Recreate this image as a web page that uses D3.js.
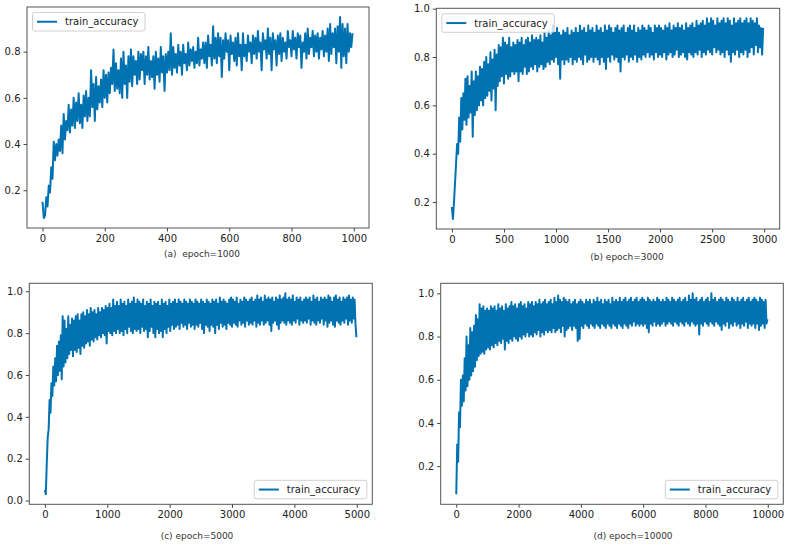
<!DOCTYPE html>
<html>
<head>
<meta charset="utf-8">
<script src="https://cdnjs.cloudflare.com/ajax/libs/d3/7.8.5/d3.min.js"></script>
<style>
body { margin: 0; background: #fff; }
text { font-family: "DejaVu Sans", sans-serif; }
</style>
</head>
<body>
<script>
// train_accuracy, one value every `step` epochs
var accA = [ // epoch=1000, step 4
.15,.08,.09,.17,.13,.22,.19,.30,.25,.41,.33,.40,.35,.42,.37,.48,.36,.53,.42,.50,
.46,.57,.45,.55,.48,.60,.47,.58,.50,.62,.49,.57,.47,.61,.52,.63,.50,.60,.52,.72,
.56,.66,.50,.69,.55,.65,.58,.68,.56,.72,.60,.70,.58,.71,.62,.73,.66,.81,.63,.75,
.64,.72,.62,.77,.60,.80,.66,.74,.60,.78,.67,.81,.65,.78,.70,.76,.66,.80,.68,.79,
.72,.80,.66,.78,.70,.82,.68,.76,.69,.78,.64,.80,.70,.77,.67,.82,.71,.78,.63,.79,
.71,.80,.72,.88,.70,.82,.73,.79,.71,.83,.74,.80,.70,.83,.75,.79,.72,.84,.74,.81,
.76,.82,.73,.80,.75,.86,.74,.81,.77,.84,.75,.84,.73,.87,.78,.83,.74,.91,.77,.86,
.75,.88,.78,.86,.69,.85,.77,.88,.80,.85,.72,.87,.79,.84,.76,.86,.74,.88,.78,.83,
.72,.88,.78,.83,.76,.87,.80,.84,.75,.87,.79,.86,.77,.89,.80,.84,.72,.88,.81,.85,
.77,.90,.79,.86,.72,.88,.81,.85,.74,.87,.79,.88,.76,.86,.80,.84,.77,.89,.82,.85,
.78,.89,.81,.86,.77,.88,.82,.87,.73,.84,.80,.88,.77,.90,.79,.86,.82,.89,.78,.87,
.80,.88,.77,.86,.81,.89,.78,.87,.80,.90,.76,.92,.79,.88,.82,.90,.75,.91,.80,.95,
.73,.92,.78,.90,.75,.92,.80,.88,.82,.88
];
var accB = [ // epoch=3000, step 10
.18,.13,.20,.28,.36,.44,.40,.55,.45,.63,.50,.65,.54,.71,.52,.72,.55,.68,.57,.74,
.47,.70,.56,.74,.58,.72,.60,.76,.62,.75,.60,.78,.63,.80,.64,.77,.66,.82,.62,.79,
.67,.83,.58,.81,.68,.85,.70,.84,.72,.88,.69,.86,.73,.85,.71,.88,.72,.84,.74,.86,
.73,.85,.74,.87,.70,.86,.74,.88,.73,.85,.76,.87,.73,.88,.74,.86,.76,.89,.75,.87,
.77,.88,.74,.87,.76,.89,.77,.86,.75,.90,.76,.88,.78,.91,.77,.89,.79,.93,.78,.90,
.80,.92,.77,.90,.71,.89,.79,.91,.77,.90,.79,.92,.78,.89,.80,.91,.77,.90,.79,.92,
.78,.90,.80,.93,.79,.91,.77,.92,.81,.90,.78,.93,.79,.91,.80,.92,.78,.90,.80,.93,
.79,.91,.77,.92,.80,.90,.78,.93,.75,.91,.80,.93,.78,.92,.81,.90,.79,.92,.80,.93,
.78,.91,.74,.92,.80,.93,.79,.90,.81,.92,.78,.93,.80,.91,.79,.93,.81,.90,.78,.92,
.80,.91,.79,.93,.81,.92,.80,.91,.82,.93,.80,.92,.81,.90,.79,.93,.82,.92,.80,.93,
.81,.92,.80,.91,.82,.93,.79,.92,.81,.94,.82,.91,.80,.93,.81,.92,.83,.94,.80,.92,
.81,.93,.82,.91,.80,.94,.79,.92,.82,.93,.81,.94,.80,.92,.82,.95,.81,.93,.83,.94,
.80,.95,.82,.93,.81,.96,.83,.94,.82,.96,.81,.95,.84,.93,.82,.96,.83,.94,.81,.95,
.82,.96,.80,.94,.83,.96,.81,.95,.78,.93,.82,.96,.81,.94,.83,.95,.80,.96,.82,.94,
.81,.95,.83,.96,.80,.94,.82,.96,.84,.95,.81,.94,.85,.96,.82,.93,.84,.92,.81,.92
];
var accC = [ // epoch=5000, step 15
.05,.03,.18,.30,.34,.48,.42,.56,.50,.64,.55,.68,.57,.74,.60,.76,.62,.79,.58,.88,
.64,.86,.66,.82,.68,.88,.70,.84,.72,.87,.69,.86,.72,.88,.71,.89,.73,.86,.70,.89,
.74,.90,.73,.88,.75,.91,.76,.89,.74,.92,.77,.90,.76,.91,.78,.89,.77,.92,.79,.90,
.78,.92,.80,.91,.79,.93,.75,.92,.81,.94,.80,.92,.79,.96,.81,.93,.80,.95,.82,.93,
.80,.96,.81,.94,.79,.95,.82,.93,.80,.96,.83,.94,.81,.95,.80,.97,.82,.94,.81,.96,
.82,.95,.80,.94,.83,.96,.81,.93,.82,.95,.78,.94,.81,.96,.83,.93,.80,.95,.78,.94,
.82,.95,.80,.93,.81,.96,.78,.94,.82,.95,.80,.93,.83,.96,.81,.94,.84,.95,.82,.96,
.83,.94,.84,.96,.82,.95,.85,.94,.83,.96,.84,.95,.82,.94,.85,.96,.83,.95,.84,.94,
.82,.96,.84,.95,.83,.94,.85,.96,.82,.95,.80,.94,.84,.96,.83,.95,.81,.94,.84,.96,
.83,.95,.80,.96,.84,.94,.82,.97,.85,.95,.83,.96,.84,.95,.82,.94,.85,.96,.84,.97,
.83,.96,.85,.95,.84,.97,.83,.94,.86,.96,.84,.95,.85,.97,.83,.96,.86,.95,.84,.96,
.85,.97,.84,.95,.86,.96,.83,.98,.85,.96,.84,.97,.86,.95,.84,.98,.85,.96,.86,.97,
.84,.96,.81,.97,.85,.95,.86,.97,.84,.96,.82,.98,.85,.96,.86,.97,.85,.99,.84,.96,
.86,.97,.85,.96,.84,.98,.86,.95,.85,.97,.87,.96,.84,.97,.86,.95,.85,.96,.86,.97,
.85,.96,.87,.97,.84,.95,.86,.98,.85,.96,.84,.97,.86,.95,.85,.97,.87,.96,.84,.97,
.86,.96,.83,.98,.85,.97,.86,.95,.84,.97,.83,.98,.86,.96,.85,.97,.84,.95,.86,.97,
.85,.96,.87,.97,.84,.98,.86,.96,.85,.97,.87,.96,.84,.78
];
var accD = [ // epoch=10000, step 30
.07,.30,.22,.45,.38,.60,.48,.62,.50,.70,.55,.80,.57,.76,.60,.84,.62,.82,.64,.85,
.66,.90,.69,.88,.71,.95,.72,.93,.73,.94,.72,.92,.74,.93,.75,.92,.74,.94,.76,.93,
.75,.94,.77,.92,.76,.95,.78,.93,.77,.94,.79,.92,.74,.95,.78,.93,.77,.94,.79,.96,
.78,.94,.80,.95,.79,.93,.78,.95,.80,.96,.79,.94,.81,.95,.80,.93,.82,.96,.80,.95,
.81,.96,.80,.94,.82,.96,.81,.95,.83,.97,.80,.95,.82,.96,.81,.97,.83,.95,.82,.96,
.83,.97,.82,.95,.84,.98,.82,.96,.83,.99,.84,.97,.82,.96,.85,.98,.80,.97,.83,.96,
.84,.97,.85,.95,.83,.96,.85,.97,.84,.95,.78,.96,.79,.97,.85,.96,.84,.95,.86,.97,
.85,.96,.84,.97,.86,.95,.85,.97,.84,.96,.86,.98,.85,.96,.84,.97,.86,.95,.85,.97,
.84,.96,.86,.97,.85,.95,.84,.98,.86,.96,.85,.97,.84,.96,.86,.98,.85,.96,.84,.97,
.86,.98,.85,.96,.84,.97,.86,.98,.85,.96,.87,.97,.85,.98,.86,.96,.85,.97,.86,.98,
.85,.97,.86,.96,.84,.98,.82,.97,.86,.96,.85,.97,.87,.96,.85,.98,.86,.97,.85,.96,
.86,.97,.87,.96,.85,.98,.86,.97,.87,.96,.86,.98,.85,.97,.87,.96,.86,.97,.85,.98,
.87,.96,.86,.97,.85,.98,.87,.96,.86,.99,.85,.97,.87,1.0,.86,.97,.85,.98,.86,.96,
.81,.97,.86,.98,.85,.96,.87,.97,.86,.98,.85,.96,.87,1.0,.86,.97,.85,.98,.87,.96,
.86,.97,.85,.98,.83,.97,.86,.96,.85,.98,.87,.97,.84,.96,.86,.98,.85,.97,.87,.96,
.85,.98,.86,.96,.84,.97,.86,.98,.85,.96,.87,.97,.84,.98,.86,.96,.85,.97,.86,.98,
.84,.97,.86,.96,.83,.98,.85,.97,.86,.96,.84,.97,.86,.88
];

var epochs = [1000, 3000, 5000, 10000];
var steps = [4, 10, 15, 30];
var captions = ["(a)  epoch=1000", "(b) epoch=3000", "(c) epoch=5000", "(d) epoch=10000"];
var xTicks = [
    [0, 200, 400, 600, 800, 1000],
    [0, 500, 1000, 1500, 2000, 2500, 3000],
    [0, 1000, 2000, 3000, 4000, 5000],
    [0, 2000, 4000, 6000, 8000, 10000]
];
var yTicks = [
    [0.2, 0.4, 0.6, 0.8],
    [0.2, 0.4, 0.6, 0.8, 1.0],
    [0.0, 0.2, 0.4, 0.6, 0.8, 1.0],
    [0.2, 0.4, 0.6, 0.8, 1.0]
];
var legendLabel = "train_accuracy";

var lineColor = "#0072b2";

// panel boxes (pixels) and where the legend / caption sit
var panels = [
    {left: 27,    right: 369,   top: 7,     bottom: 228,   legend: "ul", capX: 202, capY: 256.5},
    {left: 436.3, right: 779.7, top: 8.3,   bottom: 229,   legend: "ul", capX: 627, capY: 260},
    {left: 29.3,  right: 372.3, top: 283.3, bottom: 504.3, legend: "lr", capX: 197, capY: 538.5},
    {left: 440.7, right: 783.3, top: 283.3, bottom: 504.3, legend: "lr", capX: 633, capY: 538.5}
];
var series = [accA, accB, accC, accD];

var svg = d3.select("body").append("svg")
    .attr("width", 788)
    .attr("height", 545);

function drawPanel(k) {
    var p = panels[k];
    var acc = series[k];
    var step = steps[k];
    var n = epochs[k];

    // matplotlib style 5% margins
    var x = d3.scaleLinear()
        .domain([-0.05 * (n - 1), (n - 1) * 1.05])
        .range([p.left, p.right]);
    var ext = d3.extent(acc);
    var pad = (ext[1] - ext[0]) * 0.05;
    var y = d3.scaleLinear()
        .domain([ext[0] - pad, ext[1] + pad])
        .range([p.bottom, p.top]);

    var g = svg.append("g");

    g.append("clipPath").attr("id", "clip" + k)
        .append("rect")
        .attr("x", p.left).attr("y", p.top)
        .attr("width", p.right - p.left).attr("height", p.bottom - p.top);

    var line = d3.line()
        .x(function(d, i) { return x(i * step); })
        .y(function(d) { return y(d); });

    g.append("path")
        .datum(acc)
        .attr("clip-path", "url(#clip" + k + ")")
        .attr("d", line)
        .attr("fill", "none")
        .attr("stroke", lineColor)
        .attr("stroke-width", 2)
        .attr("stroke-linejoin", "round");

    // axes
    var xa = g.append("g")
        .attr("transform", "translate(0," + p.bottom + ")")
        .call(d3.axisBottom(x).tickValues(xTicks[k]).tickSize(3.5).tickPadding(3).tickFormat(d3.format("d")));
    var ya = g.append("g")
        .attr("transform", "translate(" + p.left + ",0)")
        .call(d3.axisLeft(y).tickValues(yTicks[k]).tickSize(3.5).tickPadding(3).tickFormat(d3.format(".1f")));
    [xa, ya].forEach(function(a) {
        a.select(".domain").remove();
        a.attr("font-family", "DejaVu Sans").attr("font-size", 10);
        a.selectAll("line").attr("stroke", "#444");
        a.selectAll("text").attr("fill", "#222");
    });

    // frame
    g.append("rect")
        .attr("x", p.left).attr("y", p.top)
        .attr("width", p.right - p.left).attr("height", p.bottom - p.top)
        .attr("fill", "none")
        .attr("stroke", "#555")
        .attr("stroke-width", 1);

    // legend
    var lw = 112.5, lh = 18.5;
    var lx = p.legend == "ul" ? p.left + 5.5 : p.right - 5.5 - lw;
    var ly = p.legend == "ul" ? p.top + 5.5 : p.bottom - 5.5 - lh;
    var lg = g.append("g").attr("transform", "translate(" + lx + "," + ly + ")");
    lg.append("rect")
        .attr("width", lw).attr("height", lh)
        .attr("rx", 2)
        .attr("fill", "#fff").attr("fill-opacity", 0.8)
        .attr("stroke", "#d0d0d0");
    lg.append("line")
        .attr("x1", 4.5).attr("x2", 24.5)
        .attr("y1", lh / 2).attr("y2", lh / 2)
        .attr("stroke", lineColor).attr("stroke-width", 2);
    lg.append("text")
        .attr("x", 32.5).attr("y", lh / 2 + 3.6)
        .attr("font-size", 10)
        .attr("fill", "#222")
        .text(legendLabel);

    // caption under the panel
    svg.append("text")
        .attr("x", p.capX).attr("y", p.capY)
        .attr("text-anchor", "middle")
        .attr("font-size", 9)
        .attr("fill", "#333")
        .style("white-space", "pre")
        .text(captions[k]);
}

for (var k = 0; k < panels.length; k++) {
    drawPanel(k);
}
</script>
</body>
</html>
